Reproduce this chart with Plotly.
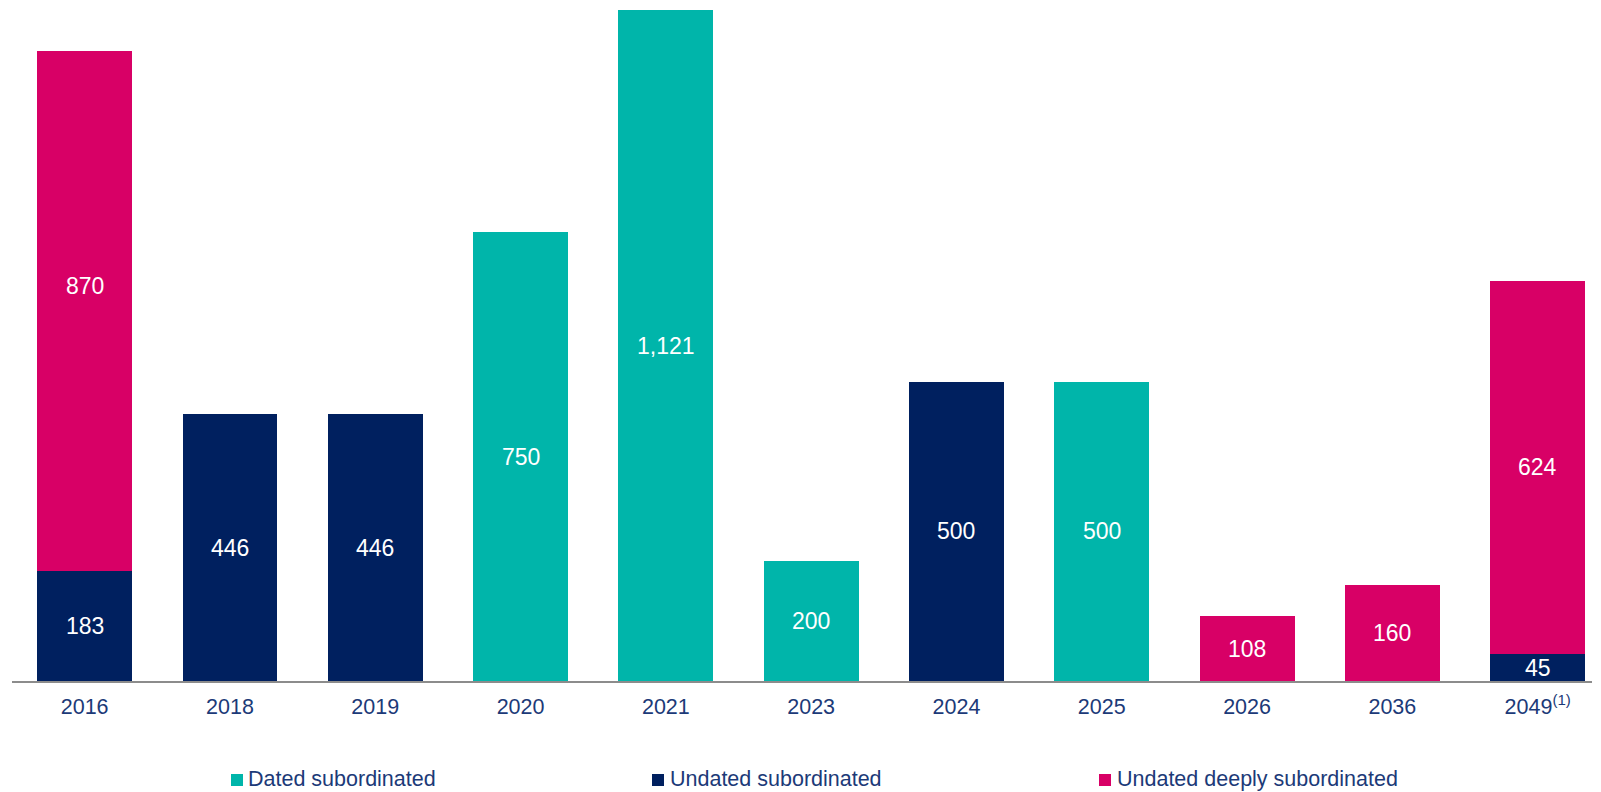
import plotly.graph_objects as go

# Maturity buckets and amounts per instrument type
years = ["2016", "2018", "2019", "2020", "2021", "2023", "2024", "2025", "2026", "2036", "2049<sup>(1)</sup>"]
dated_sub = [0, 0, 0, 750, 1121, 200, 0, 500, 0, 0, 0]
undated_sub = [183, 446, 446, 0, 0, 0, 500, 0, 0, 0, 45]
undated_deeply_sub = [870, 0, 0, 0, 0, 0, 0, 0, 108, 160, 624]

series = [
    ("Dated subordinated", dated_sub, "#00B5AA"),
    ("Undated subordinated", undated_sub, "#00205F"),
    ("Undated deeply subordinated", undated_deeply_sub, "#D80066"),
]
# stacking order from the axis upward
stack_order = [1, 0, 2]

W, H = 1601, 792
L, R, T, B = 12, 9, 0, 111
plot_w = W - L - R
plot_h = H - T - B

TEXT_COLOR = "#1c3a78"
FONT = "Liberation Sans, Arial, sans-serif"

fig = go.Figure()
for idx in stack_order:
    name, vals, color = series[idx]
    fig.add_trace(go.Bar(
        x=years, y=vals, name=name,
        marker=dict(color=color, line=dict(width=0)),
        showlegend=False, hoverinfo="skip",
    ))

# value labels centred on their segments (x given as category index)
label_shift = {(0, 2): 25}
annotations = []
base = [0] * len(years)
for idx in stack_order:
    name, vals, color = series[idx]
    for i, v in enumerate(vals):
        if v > 0:
            annotations.append(dict(
                x=i, y=base[i] + v / 2, xref="x", yref="y",
                text=f"{v:,}", showarrow=False,
                font=dict(family=FONT, size=23, color="white"),
                yshift=label_shift.get((i, idx), 0),
            ))
        base[i] += v

# legend drawn below the axis
def px_x(px):
    return (px - L) / plot_w

def px_y(py):
    return (H - B - py) / plot_h

shapes = []
legend_pos = [(231, 246), (652, 668), (1099, 1115)]
for (name, vals, color), (sq_x, tx_x) in zip(series, legend_pos):
    shapes.append(dict(
        type="rect", xref="paper", yref="paper",
        x0=px_x(sq_x), x1=px_x(sq_x + 12),
        y0=px_y(786), y1=px_y(774),
        fillcolor=color, line=dict(width=0),
    ))
    annotations.append(dict(
        x=px_x(tx_x), y=px_y(779.5), xref="paper", yref="paper",
        xanchor="left", yanchor="middle", text=name, showarrow=False,
        font=dict(family=FONT, size=21.5, color=TEXT_COLOR),
    ))

fig.update_layout(
    barmode="stack",
    bargap=0.347,
    width=W, height=H,
    margin=dict(l=L, r=R, t=T, b=B, pad=0),
    paper_bgcolor="white", plot_bgcolor="white",
    font=dict(family=FONT, color=TEXT_COLOR),
    xaxis=dict(
        type="category", range=[-0.5, 10.374],
        showline=True, linecolor="#8c8c8c", linewidth=2,
        ticks="", showgrid=False, zeroline=False,
        tickfont=dict(family=FONT, size=21.5, color=TEXT_COLOR),
        ticklabelstandoff=5,
        fixedrange=True,
    ),
    yaxis=dict(
        range=[0, 1138], visible=False, showgrid=False, zeroline=False,
        fixedrange=True,
    ),
    annotations=annotations,
    shapes=shapes,
    showlegend=False,
)

fig.write_html("out.html", config={"displayModeBar": False})
